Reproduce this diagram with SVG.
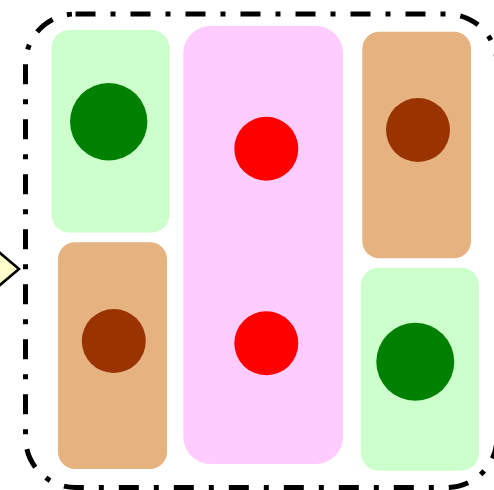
<svg xmlns="http://www.w3.org/2000/svg" width="494" height="490" viewBox="0 0 494 490">
<style>
.green{fill:#ccffcc}
.peach{fill:#e6b380}
.pink{fill:#ffccff}
.dg{fill:#008000}
.br{fill:#993300}
.rd{fill:#ff0000}
.border{fill:none;stroke:#000;stroke-width:5;stroke-dasharray:20 15 5 15}
</style>
<rect width="494" height="490" fill="#ffffff"/>
<g id="container">
<rect class="border" x="25.5" y="14" width="471.5" height="473.5" rx="50" ry="50"/>
</g>
<g id="node-green-tl">
<rect class="green" x="51.5" y="30" width="118" height="202.5" rx="18"/>
<circle class="dg" cx="108.7" cy="121.7" r="38.7"/>
</g>
<g id="node-peach-bl">
<rect class="peach" x="58" y="242.3" width="109" height="226.7" rx="17"/>
<circle class="br" cx="113.8" cy="341" r="32"/>
</g>
<g id="node-pink">
<rect class="pink" x="183.3" y="26" width="159.7" height="438" rx="27"/>
<circle class="rd" cx="266.3" cy="148.7" r="32"/>
<circle class="rd" cx="266.3" cy="343.3" r="32"/>
</g>
<g id="node-peach-tr">
<rect class="peach" x="362.3" y="31.7" width="108.7" height="226.6" rx="17"/>
<circle class="br" cx="418" cy="130" r="32"/>
</g>
<g id="node-green-br">
<rect class="green" x="360.7" y="267.7" width="118.3" height="203" rx="18"/>
<circle class="dg" cx="415.3" cy="361.8" r="39"/>
</g>
<g id="connectors">
<polygon points="19,269 0,253 -19,269 0,285" fill="#ffffcc" stroke="#000" stroke-width="2.5"/>
</g>
</svg>
